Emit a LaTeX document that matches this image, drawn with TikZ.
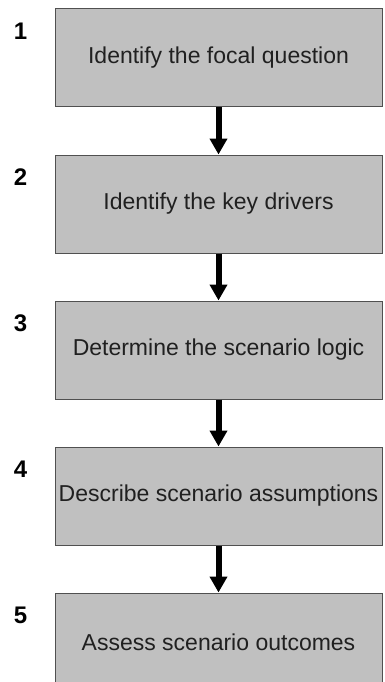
\documentclass[tikz,border=0pt]{standalone}
\usepackage{fontspec}
\setmainfont{Liberation Sans}
\usepackage{tikz}
\usetikzlibrary{arrows.meta,positioning,shapes}

\definecolor{boxgray}{HTML}{C0C0C0}
\definecolor{edgegray}{HTML}{505050}
\definecolor{textgray}{HTML}{202020}

\begin{document}
\begin{tikzpicture}[-{Triangle[width=17pt,length=16pt]},line width=6pt,
	                    node distance=47pt]
	  \tikzstyle{stepbox}=[draw=edgegray,line width=1pt,fill=boxgray,text=textgray,
	                       minimum width=327pt,minimum height=98pt,inner sep=1pt,
	                       font=\fontsize{23}{27}\selectfont]
	  \tikzstyle{numlabel}=[font=\fontsize{24}{28}\selectfont\bfseries,inner sep=0pt]

	  \useasboundingbox (0pt,0pt) rectangle (385pt,-682pt);

	  \node[stepbox] (S1) at (218.5pt,-58pt) {Identify the focal question};
	  \node[stepbox] (S2) [below=of S1] {Identify the key drivers};
	  \node[stepbox] (S3) [below=of S2] {Determine the scenario logic};
	  \node[stepbox] (S4) [below=of S3] {Describe scenario assumptions};
	  \node[stepbox] (S5) [below=of S4] {Assess scenario outcomes};

	  \node[numlabel] (N1) at ([xshift=-34pt,yshift=-23pt]S1.north west) {1};
	  \node[numlabel] (N2) at ([xshift=-34pt,yshift=-23pt]S2.north west) {2};
	  \node[numlabel] (N3) at ([xshift=-34pt,yshift=-23pt]S3.north west) {3};
	  \node[numlabel] (N4) at ([xshift=-34pt,yshift=-23pt]S4.north west) {4};
	  \node[numlabel] (N5) at ([xshift=-34pt,yshift=-23pt]S5.north west) {5};

	  \draw (S1) -- (S2);
	  \draw (S2) -- (S3);
	  \draw (S3) -- (S4);
	  \draw (S4) -- (S5);
	\end{tikzpicture}
\end{document}
